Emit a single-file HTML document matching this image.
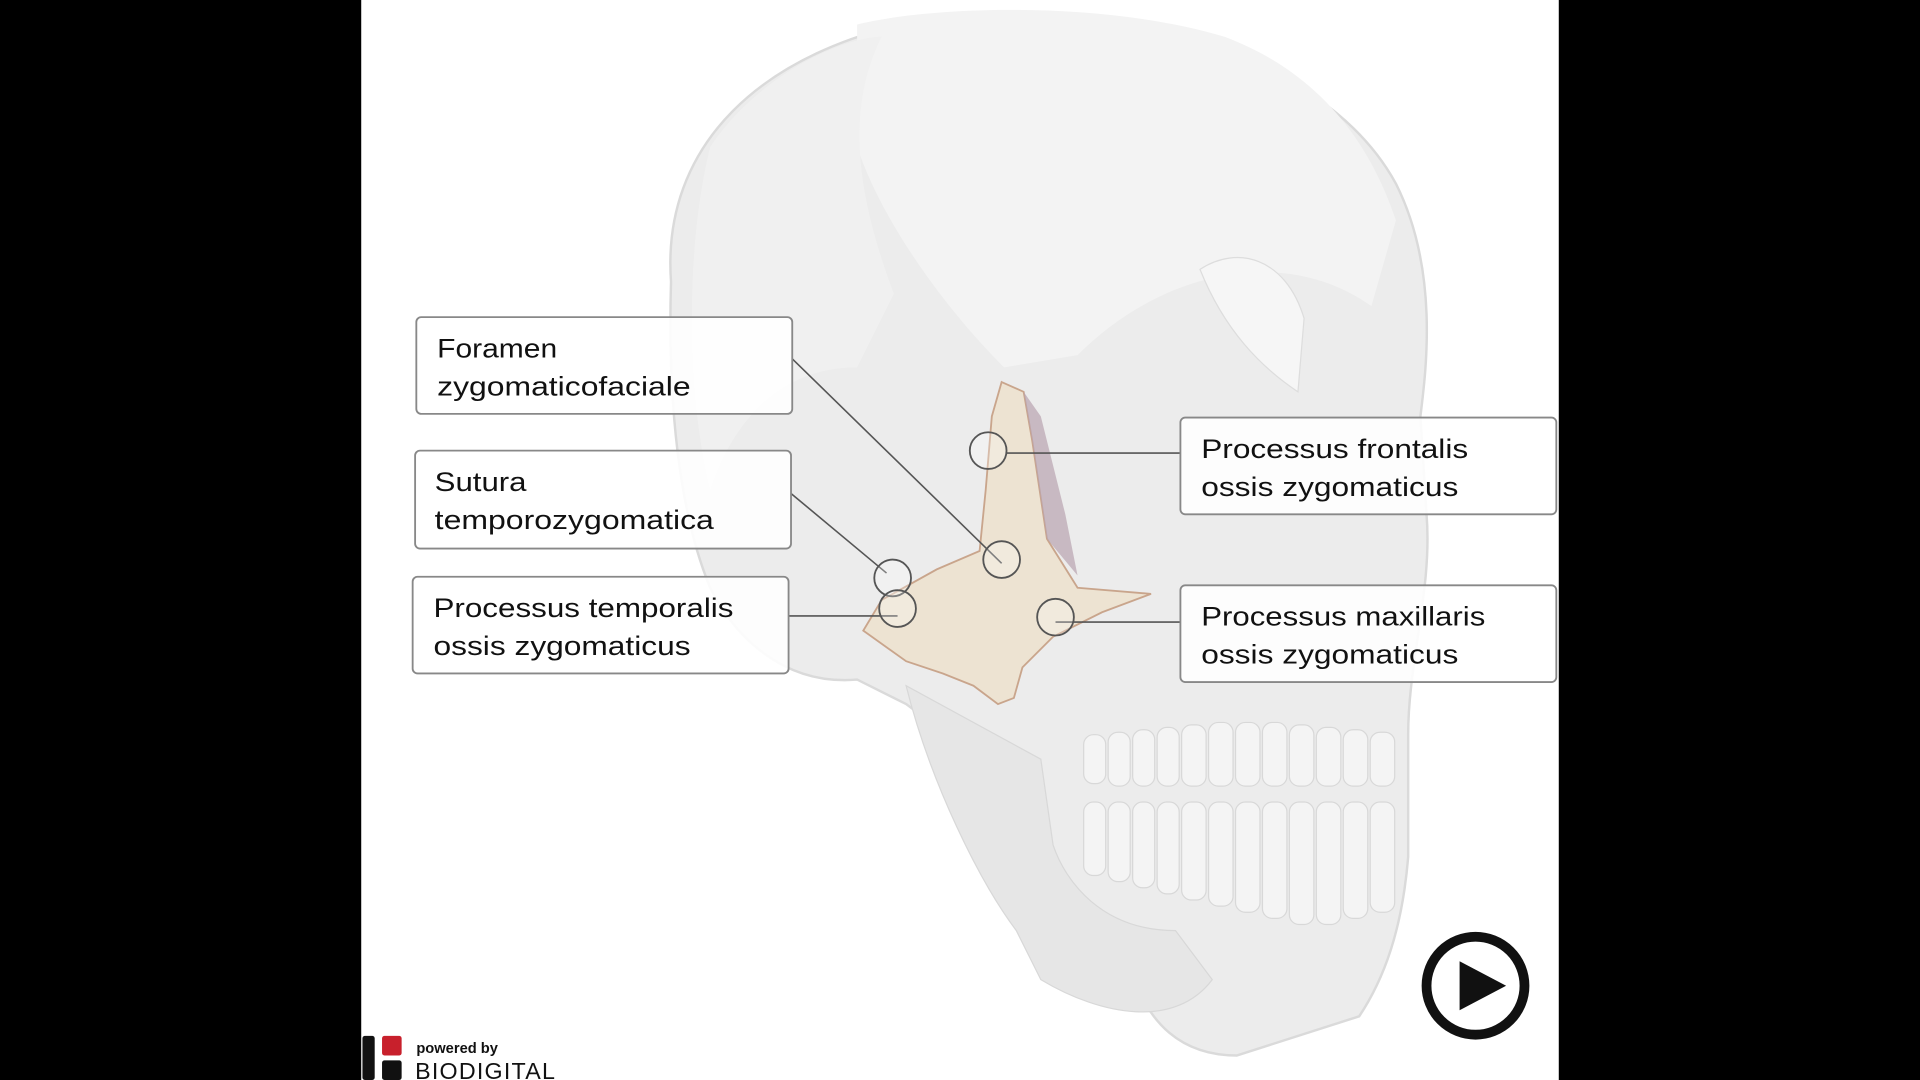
<!DOCTYPE html>
<html><head><meta charset="utf-8"><style>
html,body{margin:0;padding:0;background:#000;width:1920px;height:1080px;overflow:hidden}
svg{display:block}
text{font-family:"Liberation Sans",sans-serif}
</style></head><body>
<svg width="1920" height="1080" viewBox="0 0 1568 882" xmlns="http://www.w3.org/2000/svg">
<rect x="0" y="0" width="1568" height="882" fill="#000"/>
<rect x="295" y="0" width="978" height="882" fill="#fff"/>
<!-- skull -->
<path d="M548,230 C540,120 620,40 760,15 C900,-5 1080,40 1140,150 C1175,220 1165,300 1160,340 L1165,420 C1170,480 1150,540 1150,600 L1150,700 C1145,760 1130,800 1110,830 L1010,862 C960,862 940,830 930,810 L880,770 C840,720 820,650 800,620 L740,575 L700,555 C640,560 600,520 580,480 C555,420 545,330 548,230 Z" fill="#ececec" stroke="#dadada" stroke-width="2"/>
<path d="M700,20 C760,5 900,0 1000,30 C1080,60 1120,120 1140,180 L1120,250 C1050,200 950,220 880,290 L820,300 C770,250 720,180 700,120 Z" fill="#f3f3f3"/>
<path d="M580,120 C620,60 690,30 720,30 C690,90 700,160 730,240 L700,300 C640,300 600,340 580,400 C560,320 560,200 580,120 Z" fill="#f0f0f0"/>
<path d="M980,220 C1010,200 1050,210 1065,260 L1060,320 C1030,300 1000,270 980,220 Z" fill="#f6f6f6" stroke="#ddd"/>
<path d="M740,560 C760,640 800,720 830,760 L850,800 C900,830 960,840 990,800 L960,760 C900,760 870,720 860,690 L850,620 Z" fill="#e6e6e6" stroke="#d8d8d8"/>
<g fill="#f4f4f4" stroke="#d8d8d8" stroke-width="1">
<rect x="885" y="600" width="18" height="40" rx="8"/><rect x="905" y="598" width="18" height="44" rx="8"/><rect x="925" y="596" width="18" height="46" rx="8"/><rect x="945" y="594" width="18" height="48" rx="8"/><rect x="965" y="592" width="20" height="50" rx="8"/><rect x="987" y="590" width="20" height="52" rx="8"/><rect x="1009" y="590" width="20" height="52" rx="8"/><rect x="1031" y="590" width="20" height="52" rx="8"/><rect x="1053" y="592" width="20" height="50" rx="8"/><rect x="1075" y="594" width="20" height="48" rx="8"/><rect x="1097" y="596" width="20" height="46" rx="8"/><rect x="1119" y="598" width="20" height="44" rx="8"/>
<rect x="885" y="655" width="18" height="60" rx="8"/><rect x="905" y="655" width="18" height="65" rx="8"/><rect x="925" y="655" width="18" height="70" rx="8"/><rect x="945" y="655" width="18" height="75" rx="8"/><rect x="965" y="655" width="20" height="80" rx="8"/><rect x="987" y="655" width="20" height="85" rx="8"/><rect x="1009" y="655" width="20" height="90" rx="8"/><rect x="1031" y="655" width="20" height="95" rx="8"/><rect x="1053" y="655" width="20" height="100" rx="8"/><rect x="1075" y="655" width="20" height="100" rx="8"/><rect x="1097" y="655" width="20" height="95" rx="8"/><rect x="1119" y="655" width="20" height="90" rx="8"/>
</g>
<!-- zygomatic bone -->
<path d="M818,312 L836,320 L843,360 L855,440 L880,480 L940,485 L900,500 L860,520 L835,545 L828,570 L815,575 L795,560 L770,550 L740,540 L705,515 L720,490 L765,465 L800,450 L805,400 L810,340 Z" fill="#ede3d2" stroke="#c9a58c" stroke-width="1.5"/>
<path d="M836,320 L843,360 L855,440 L880,470 L870,420 L850,340 Z" fill="#b9a4b0" opacity="0.7"/>
<!-- leader lines -->
<g stroke="#555" stroke-width="1.3" fill="none">
<line x1="647" y1="293" x2="818" y2="460"/>
<line x1="646" y1="403" x2="724" y2="468"/>
<line x1="644" y1="503" x2="733" y2="503"/>
<line x1="822" y1="370" x2="964" y2="370"/>
<line x1="862" y1="508" x2="964" y2="508"/>
</g>
<g stroke="#555" stroke-width="1.5" fill="rgba(255,255,255,0.25)">
<circle cx="807" cy="368" r="15"/><circle cx="818" cy="457" r="15"/><circle cx="729" cy="472" r="15"/><circle cx="733" cy="497" r="15"/><circle cx="862" cy="504" r="15"/>
</g>
<!-- boxes -->
<g fill="rgba(255,255,255,0.88)" stroke="#888" stroke-width="1.5">
<rect x="340" y="259" width="307" height="79" rx="4"/>
<rect x="339" y="368" width="307" height="80" rx="4"/>
<rect x="337" y="471" width="307" height="79" rx="4"/>
<rect x="964" y="341" width="307" height="79" rx="4"/>
<rect x="964" y="478" width="307" height="79" rx="4"/>
</g>
<g font-size="22" fill="#111">
<text x="357" y="292" textLength="98" lengthAdjust="spacingAndGlyphs">Foramen</text><text x="357" y="323" textLength="207" lengthAdjust="spacingAndGlyphs">zygomaticofaciale</text>
<text x="355" y="401" textLength="75" lengthAdjust="spacingAndGlyphs">Sutura</text><text x="355" y="432" textLength="228" lengthAdjust="spacingAndGlyphs">temporozygomatica</text>
<text x="354" y="504" textLength="245" lengthAdjust="spacingAndGlyphs">Processus temporalis</text><text x="354" y="535" textLength="210" lengthAdjust="spacingAndGlyphs">ossis zygomaticus</text>
<text x="981" y="374" textLength="218" lengthAdjust="spacingAndGlyphs">Processus frontalis</text><text x="981" y="405" textLength="210" lengthAdjust="spacingAndGlyphs">ossis zygomaticus</text>
<text x="981" y="511" textLength="232" lengthAdjust="spacingAndGlyphs">Processus maxillaris</text><text x="981" y="542" textLength="210" lengthAdjust="spacingAndGlyphs">ossis zygomaticus</text>
</g>
<!-- play -->
<circle cx="1205" cy="805" r="40" fill="#fff" stroke="#111" stroke-width="8"/>
<path d="M1192,785 L1230,805 L1192,825 Z" fill="#111"/>
<!-- logo -->
<rect x="296" y="846" width="10" height="36" fill="#111" rx="2"/>
<rect x="312" y="846" width="16" height="16" fill="#c8202c" rx="2"/>
<rect x="312" y="866" width="16" height="16" fill="#111" rx="2"/>
<text x="340" y="860" font-size="12" font-weight="bold" fill="#111">powered by</text>
<text x="339" y="881" font-size="19" fill="#111" letter-spacing="1">BIODIGITAL</text>
</svg>
</body></html>
